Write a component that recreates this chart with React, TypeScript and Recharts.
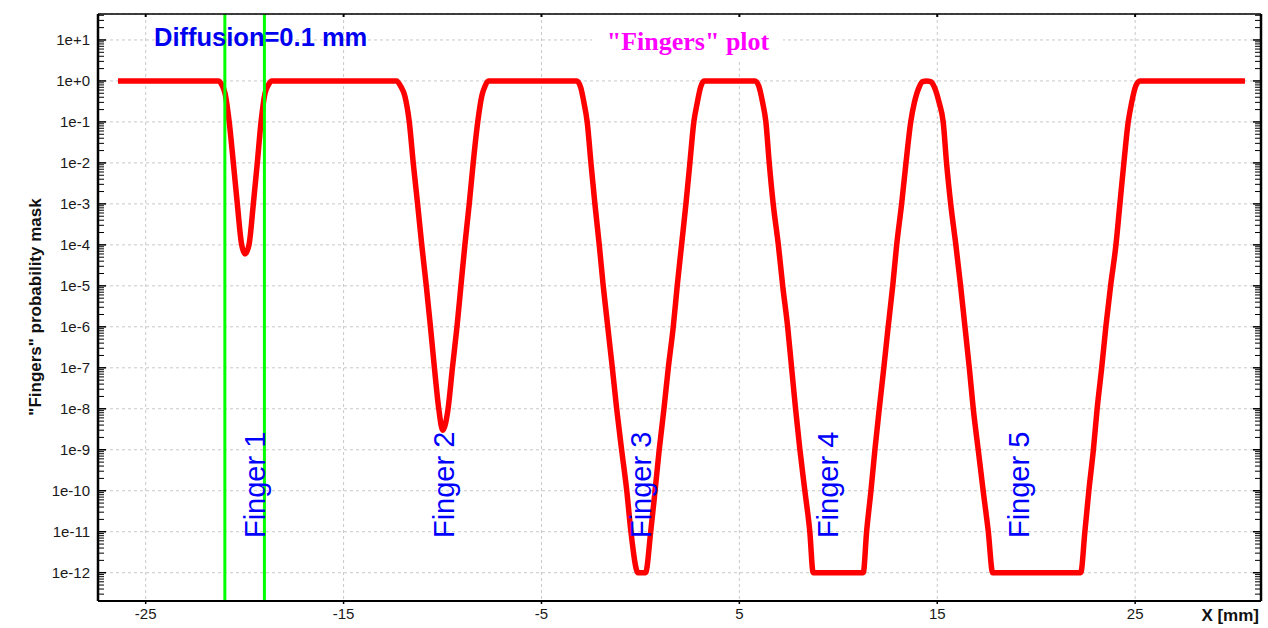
import React from 'react';
import {
  ComposedChart,
  Line,
  XAxis,
  YAxis,
  CartesianGrid,
  ReferenceLine,
  ReferenceDot,
} from 'recharts';

const WIDTH = 1268;
const HEIGHT = 628;
const SANS = "'Liberation Sans', Arial, sans-serif";
const SERIF = "'Liberation Serif', 'Times New Roman', serif";

// Axis ranges and ticks
const xDomain = [-27.41, 31.36];
const yDomain = [2.04e-13, 43];
const xTicks = [-25, -15, -5, 5, 15, 25];
const xTickLabels = ['-25', '-15', '-5', '5', '15', '25'];
const decadeTicks = [1e1, 1e0, 1e-1, 1e-2, 1e-3, 1e-4, 1e-5, 1e-6, 1e-7, 1e-8, 1e-9, 1e-10, 1e-11, 1e-12];
const decadeLabels = ['1e+1', '1e+0', '1e-1', '1e-2', '1e-3', '1e-4', '1e-5', '1e-6', '1e-7', '1e-8', '1e-9', '1e-10', '1e-11', '1e-12'];

// Unlabelled log sub-ticks (2..9 per decade) inside the visible range
const minorTicks: number[] = [];
for (let e = -13; e <= 1; e++) {
  for (let k = 2; k <= 9; k++) {
    const v = k * Math.pow(10, e);
    if (v > yDomain[0] && v < yDomain[1]) minorTicks.push(v);
  }
}

// Probability mask along X [mm]
const leadX = [-26.4];
const leadY = [1];

const finger1X = [-21.33, -21.15, -20.99, -20.78, -20.57, -20.37, -20.15, -19.98, -19.78, -19.56, -19.36, -19.17, -18.97, -18.8, -18.63];
const finger1Y = [1, 0.8, 0.5, 1e-1, 1e-2, 1e-3, 1e-4, 6e-5, 1e-4, 1e-3, 1e-2, 1e-1, 0.5, 0.8, 1];

const finger2X = [-12.32, -12.12, -11.9, -11.68, -11.48, -11.26, -11.05, -10.82, -10.61, -10.41, -10.19, -9.99, -9.72, -9.5, -9.27, -9.07, -8.87, -8.65, -8.45, -8.22, -8.02, -7.85, -7.69];
const finger2Y = [1, 0.75, 0.42, 1e-1, 1e-2, 1e-3, 1e-4, 1e-5, 1e-6, 1e-7, 1e-8, 3e-9, 1e-8, 1e-7, 1e-6, 1e-5, 1e-4, 1e-3, 1e-2, 1e-1, 0.42, 0.75, 1];

const finger3X = [-3.22, -3.02, -2.85, -2.69, -2.5, -2.3, -2.08, -1.88, -1.65, -1.42, -1.2, -0.95, -0.69, -0.48, -0.12, 0.26, 0.52, 0.74, 0.95, 1.19, 1.41, 1.66, 1.86, 2.08, 2.3, 2.5, 2.7, 2.87, 3.04, 3.21];
const finger3Y = [1, 0.7, 0.29, 1e-1, 1e-2, 1e-3, 1e-4, 1e-5, 1e-6, 1e-7, 1e-8, 1e-9, 1e-10, 1e-11, 1e-12, 1e-12, 1e-11, 1e-10, 1e-9, 1e-8, 1e-7, 1e-6, 1e-5, 1e-4, 1e-3, 1e-2, 1e-1, 0.29, 0.7, 1];

const finger4X = [5.79, 5.98, 6.18, 6.34, 6.51, 6.71, 6.97, 7.19, 7.44, 7.64, 7.84, 8.06, 8.31, 8.56, 8.73, 11.26, 11.43, 11.65, 11.85, 12.07, 12.3, 12.52, 12.75, 12.95, 13.2, 13.42, 13.66, 13.84, 14.08, 14.26, 14.46, 14.66];
const finger4Y = [1, 0.75, 0.29, 1e-1, 1e-2, 1e-3, 1e-4, 1e-5, 1e-6, 1e-7, 1e-8, 1e-9, 1e-10, 1e-11, 1e-12, 1e-12, 1e-11, 1e-10, 1e-9, 1e-8, 1e-7, 1e-6, 1e-5, 1e-4, 1e-3, 1e-2, 1e-1, 0.29, 0.7, 0.96, 1, 0.96];

const finger5X = [14.86, 15.1, 15.3, 15.47, 15.68, 15.94, 16.18, 16.4, 16.62, 16.82, 17.07, 17.32, 17.58, 17.8, 22.25, 22.46, 22.66, 22.89, 23.08, 23.31, 23.52, 23.76, 24.03, 24.23, 24.43, 24.65, 24.82, 25.03, 25.24, 30.55];
const finger5Y = [0.7, 0.29, 1e-1, 1e-2, 1e-3, 1e-4, 1e-5, 1e-6, 1e-7, 1e-8, 1e-9, 1e-10, 1e-11, 1e-12, 1e-12, 1e-11, 1e-10, 1e-9, 1e-8, 1e-7, 1e-6, 1e-5, 1e-4, 1e-3, 1e-2, 1e-1, 0.29, 0.75, 1, 1];

const segmentsX = [leadX, finger1X, finger2X, finger3X, finger4X, finger5X];
const segmentsY = [leadY, finger1Y, finger2Y, finger3Y, finger4Y, finger5Y];

const maskData: { x: number; y: number }[] = [];
segmentsX.forEach((xs, s) => {
  xs.forEach((x, i) => maskData.push({ x, y: segmentsY[s][i] }));
});

// Edges of the first finger
const edgeLines = [-21, -19];

// Vertical finger annotations
const fingerNames = ['Finger 1', 'Finger 2', 'Finger 3', 'Finger 4', 'Finger 5'];
const fingerLabelX = [-18.97, -9.43, 0.52, 9.99, 19.64];
const fingerLabelY = 7e-12;

const makeFingerLabel = (name: string) => (props: any) => {
  const vb = props.viewBox || {};
  const x = vb.x ?? 0;
  const y = vb.y ?? 0;
  return (
    <text
      x={x}
      y={y}
      transform={`rotate(-90 ${x} ${y})`}
      textAnchor="start"
      fill="#0000ff"
      fontSize={29}
      fontFamily={SANS}
    >
      {name}
    </text>
  );
};

// Tick marks without text, used for the inner tick rows
const NoLabel = () => <g />;

const tickStyle = { fill: '#1a1a1a', fontSize: 15, fontFamily: SANS };

const logAxisCommon = {
  type: 'number' as const,
  scale: 'log' as const,
  domain: yDomain,
  allowDataOverflow: true,
  interval: 0 as const,
};

export default function App() {
  return (
    <div style={{ position: 'absolute', left: 0, top: 0, width: WIDTH, height: HEIGHT, background: '#ffffff' }}>
      <ComposedChart
        width={WIDTH}
        height={HEIGHT}
        data={maskData}
        margin={{ top: 14, right: 7, bottom: 0, left: 0 }}
      >
        <CartesianGrid stroke="#c8c8c8" strokeDasharray="3 3" />
        <XAxis
          dataKey="x"
          type="number"
          domain={xDomain}
          allowDataOverflow
          ticks={xTicks}
          interval={0}
          height={27}
          stroke="#000"
          axisLine={{ stroke: '#000', strokeWidth: 2 }}
          tickLine={{ stroke: '#000', strokeWidth: 1.5 }}
          tickSize={3}
          tickMargin={4}
          tick={tickStyle}
          tickFormatter={(v: number) => xTickLabels[xTicks.indexOf(v)] ?? String(v)}
        />
        <XAxis
          xAxisId="top"
          dataKey="x"
          orientation="top"
          mirror
          type="number"
          domain={xDomain}
          allowDataOverflow
          ticks={xTicks}
          interval={0}
          height={1}
          stroke="#000"
          axisLine={{ stroke: '#000', strokeWidth: 1.5 }}
          tickLine={{ stroke: '#000', strokeWidth: 2 }}
          tickSize={3}
          tick={NoLabel}
        />
        <YAxis
          {...logAxisCommon}
          ticks={decadeTicks}
          width={98}
          stroke="#000"
          axisLine={{ stroke: '#000', strokeWidth: 2.5 }}
          tickLine={false}
          tickSize={0}
          tickMargin={8}
          tick={tickStyle}
          tickFormatter={(v: number) => {
            const i = decadeTicks.findIndex((t) => Math.abs(Math.log10(t) - Math.log10(v)) < 1e-6);
            return i >= 0 ? decadeLabels[i] : '';
          }}
        />
        <YAxis
          {...logAxisCommon}
          yAxisId="leftMajor"
          mirror
          ticks={decadeTicks}
          width={1}
          stroke="#000"
          axisLine={false}
          tickLine={{ stroke: '#000', strokeWidth: 1.5 }}
          tickSize={8}
          tick={NoLabel}
        />
        <YAxis
          {...logAxisCommon}
          yAxisId="leftMinor"
          mirror
          ticks={minorTicks}
          width={1}
          stroke="#000"
          axisLine={false}
          tickLine={{ stroke: '#000' }}
          tickSize={5}
          tick={NoLabel}
        />
        <YAxis
          {...logAxisCommon}
          yAxisId="rightMajor"
          orientation="right"
          mirror
          ticks={decadeTicks}
          width={1}
          stroke="#000"
          axisLine={{ stroke: '#000', strokeWidth: 2.5 }}
          tickLine={{ stroke: '#000', strokeWidth: 1.5 }}
          tickSize={8}
          tick={NoLabel}
        />
        <YAxis
          {...logAxisCommon}
          yAxisId="rightMinor"
          orientation="right"
          mirror
          ticks={minorTicks}
          width={1}
          stroke="#000"
          axisLine={false}
          tickLine={{ stroke: '#000' }}
          tickSize={5}
          tick={NoLabel}
        />
        <Line
          type="monotone"
          dataKey="y"
          stroke="#ff0000"
          strokeWidth={5.5}
          strokeLinejoin="round"
          dot={false}
          activeDot={false}
          isAnimationActive={false}
        />
        {edgeLines.map((x) => (
          <ReferenceLine key={x} x={x} stroke="#00ff00" strokeWidth={3} />
        ))}
        {fingerNames.map((name, i) => (
          <ReferenceDot
            key={name}
            x={fingerLabelX[i]}
            y={fingerLabelY}
            r={0}
            fill="none"
            stroke="none"
            label={makeFingerLabel(name)}
          />
        ))}
      </ComposedChart>
      <svg
        width={WIDTH}
        height={HEIGHT}
        style={{ position: 'absolute', left: 0, top: 0, pointerEvents: 'none' }}
      >
        <rect x={592} y={17} width={191} height={45} fill="#ffffff" />
        <text x={688} y={50} textAnchor="middle" fill="#ff00ff" fontSize={26} fontWeight="bold" fontFamily={SERIF}>
          "Fingers" plot
        </text>
        <text x={154} y={46} textAnchor="start" fill="#0000f0" fontSize={25.5} fontWeight="bold" fontFamily={SANS}>
          Diffusion=0.1 mm
        </text>
        <text
          x={41}
          y={307}
          transform="rotate(-90 41 307)"
          textAnchor="middle"
          fill="#111"
          fontSize={17}
          fontWeight="bold"
          fontFamily={SANS}
        >
          "Fingers" probability mask
        </text>
        <text x={1259} y={621} textAnchor="end" fill="#111" fontSize={17} fontWeight="bold" fontFamily={SANS}>
          X [mm]
        </text>
      </svg>
    </div>
  );
}
